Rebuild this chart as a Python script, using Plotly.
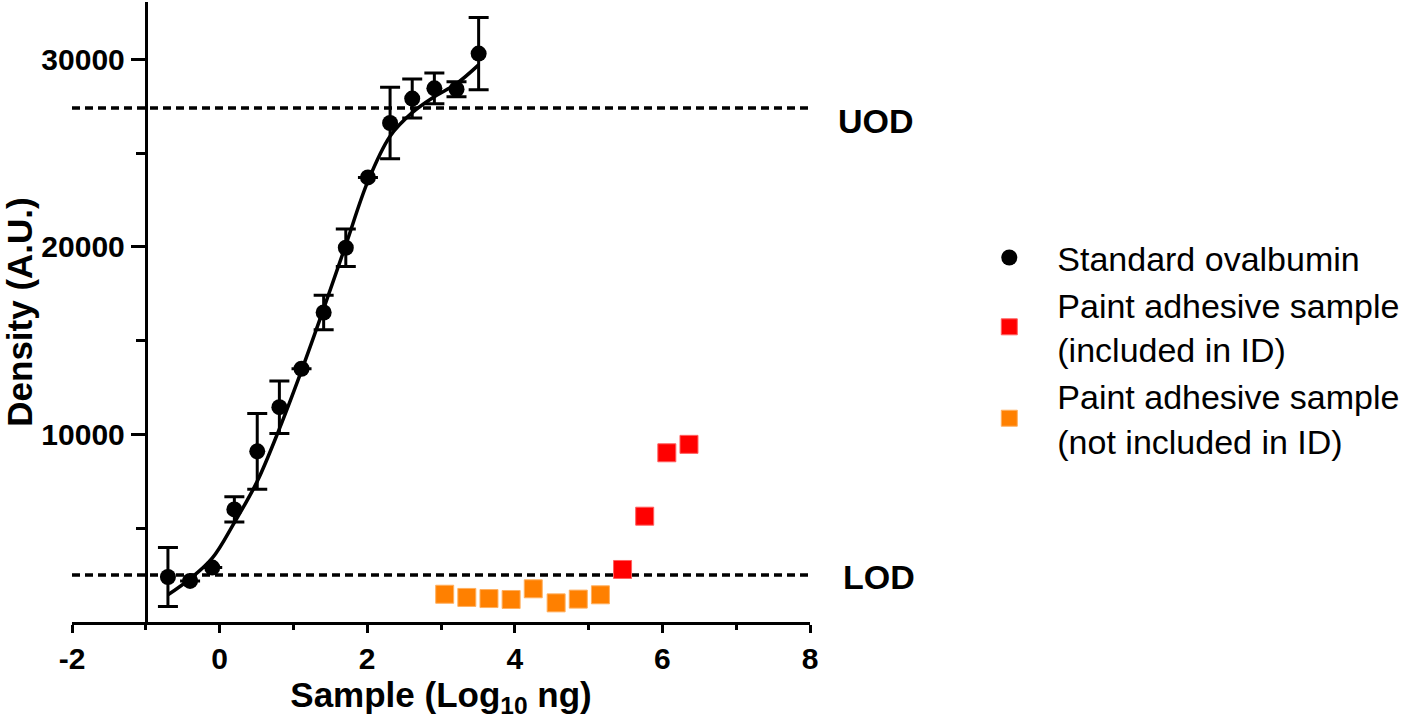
import plotly.graph_objects as go

# ---- data ----
std_x = [-0.70, -0.40, -0.10, 0.20, 0.51, 0.81, 1.11, 1.41, 1.71, 2.01, 2.31, 2.61, 2.91, 3.21, 3.51]
std_y = [2400, 2190, 2900, 6000, 9100, 11450, 13500, 16500, 19950, 23700, 26600, 27900, 28450, 28400, 30300]
std_err = [1570, None, None, 670, 2020, 1400, None, 920, 1000, None, 1900, 1040, 820, 400, 1930]

fit_x = [-0.70, -0.40, -0.10, 0.20, 0.51, 0.81, 1.11, 1.41, 1.71, 2.01, 2.31, 2.61, 2.91, 3.21, 3.51]
fit_y = [1450, 2300, 3400, 5300, 7500, 10300, 13400, 16700, 20100, 23500, 25900, 27150, 28000, 28700, 29700]

incl_x = [5.46, 5.76, 6.06, 6.36]
incl_y = [2800, 5640, 9020, 9470]

notincl_x = [3.05, 3.35, 3.65, 3.95, 4.25, 4.56, 4.86, 5.16]
notincl_y = [1480, 1310, 1250, 1200, 1770, 1020, 1220, 1450]

LOD = 2500
UOD = 27400

x_ticks = [-2, 0, 2, 4, 6, 8]
x_minor = [-1, 1, 3, 5, 7]
y_ticks = [10000, 20000, 30000]
y_ticktext = ["10000", "20000", "30000"]
y_minor = [5000, 15000, 25000]

names = ["Standard ovalbumin",
         "Paint adhesive sample<br>(included in ID)",
         "Paint adhesive sample<br>(not included in ID)"]

FONT = "Liberation Sans, Arial, sans-serif"

fig = go.Figure()

fig.add_trace(go.Scatter(
    x=fit_x, y=fit_y, mode="lines", line=dict(color="black", width=3.5, shape="spline"),
    showlegend=False, hoverinfo="skip"))

fig.add_trace(go.Scatter(
    x=std_x, y=std_y, mode="markers", name=names[0],
    marker=dict(symbol="circle", size=16, color="black"),
    error_y=dict(type="data", array=std_err, visible=True, color="black", thickness=3, width=10)))

fig.add_trace(go.Scatter(
    x=incl_x, y=incl_y, mode="markers", name=names[1],
    marker=dict(symbol="square", size=18, color="#ff0000", line=dict(color="#ff6060", width=1))))

fig.add_trace(go.Scatter(
    x=notincl_x, y=notincl_y, mode="markers", name=names[2],
    marker=dict(symbol="square", size=18, color="#ff8000", line=dict(color="#ffb060", width=1))))

for v in (UOD, LOD):
    fig.add_shape(type="line", xref="x", yref="y", x0=x_ticks[0], x1=x_ticks[-1], y0=v, y1=v,
                  line=dict(color="black", width=3.5, dash="8px,5px"), layer="below")

fig.add_annotation(x=x_ticks[-1], y=UOD, xref="x", yref="y", text="UOD", showarrow=False,
                   xanchor="left", yanchor="middle", xshift=26, yshift=-13,
                   font=dict(family=FONT, size=34, color="black", weight="bold"))
fig.add_annotation(x=x_ticks[-1], y=LOD, xref="x", yref="y", text="LOD", showarrow=False,
                   xanchor="left", yanchor="middle", xshift=31, yshift=-2,
                   font=dict(family=FONT, size=34, color="black", weight="bold"))

fig.update_layout(
    width=1416, height=725,
    margin=dict(l=72, r=606, t=2, b=103),
    paper_bgcolor="white", plot_bgcolor="white",
    font=dict(family=FONT, color="black"),
    legend=dict(x=1.205, y=0.634, xanchor="left", yanchor="top",
                font=dict(family=FONT, size=34, color="black"),
                itemwidth=86, bgcolor="rgba(0,0,0,0)"),
    xaxis=dict(range=[-2, 8], showline=True, linewidth=3, linecolor="black",
               showgrid=False, zeroline=False,
               ticks="outside", ticklen=8, tickwidth=3, tickcolor="black",
               tickvals=x_ticks, ticktext=[str(t) for t in x_ticks],
               tickfont=dict(family=FONT, size=30, color="black", weight="bold"),
               minor=dict(ticks="outside", ticklen=5, tickwidth=3, tickcolor="black", tickvals=x_minor),
               title=dict(text="Sample (Log<sub>10</sub> ng)", standoff=6,
                          font=dict(family=FONT, size=35, color="black", weight="bold"))),
    yaxis=dict(range=[0, 33050], anchor="free", position=0.1,
               showline=True, linewidth=3, linecolor="black",
               showgrid=False, zeroline=False,
               ticks="outside", ticklen=14, tickwidth=3, tickcolor="black",
               tickvals=y_ticks, ticktext=y_ticktext,
               tickfont=dict(family=FONT, size=30, color="black", weight="bold"),
               minor=dict(ticks="outside", ticklen=9, tickwidth=3, tickcolor="black", tickvals=y_minor),
               title=dict(text="Density (A.U.)", standoff=4,
                          font=dict(family=FONT, size=35, color="black", weight="bold"))),
)

fig.write_html("out.html", config={"displayModeBar": False},
               post_script="document.body.style.margin='0';")
